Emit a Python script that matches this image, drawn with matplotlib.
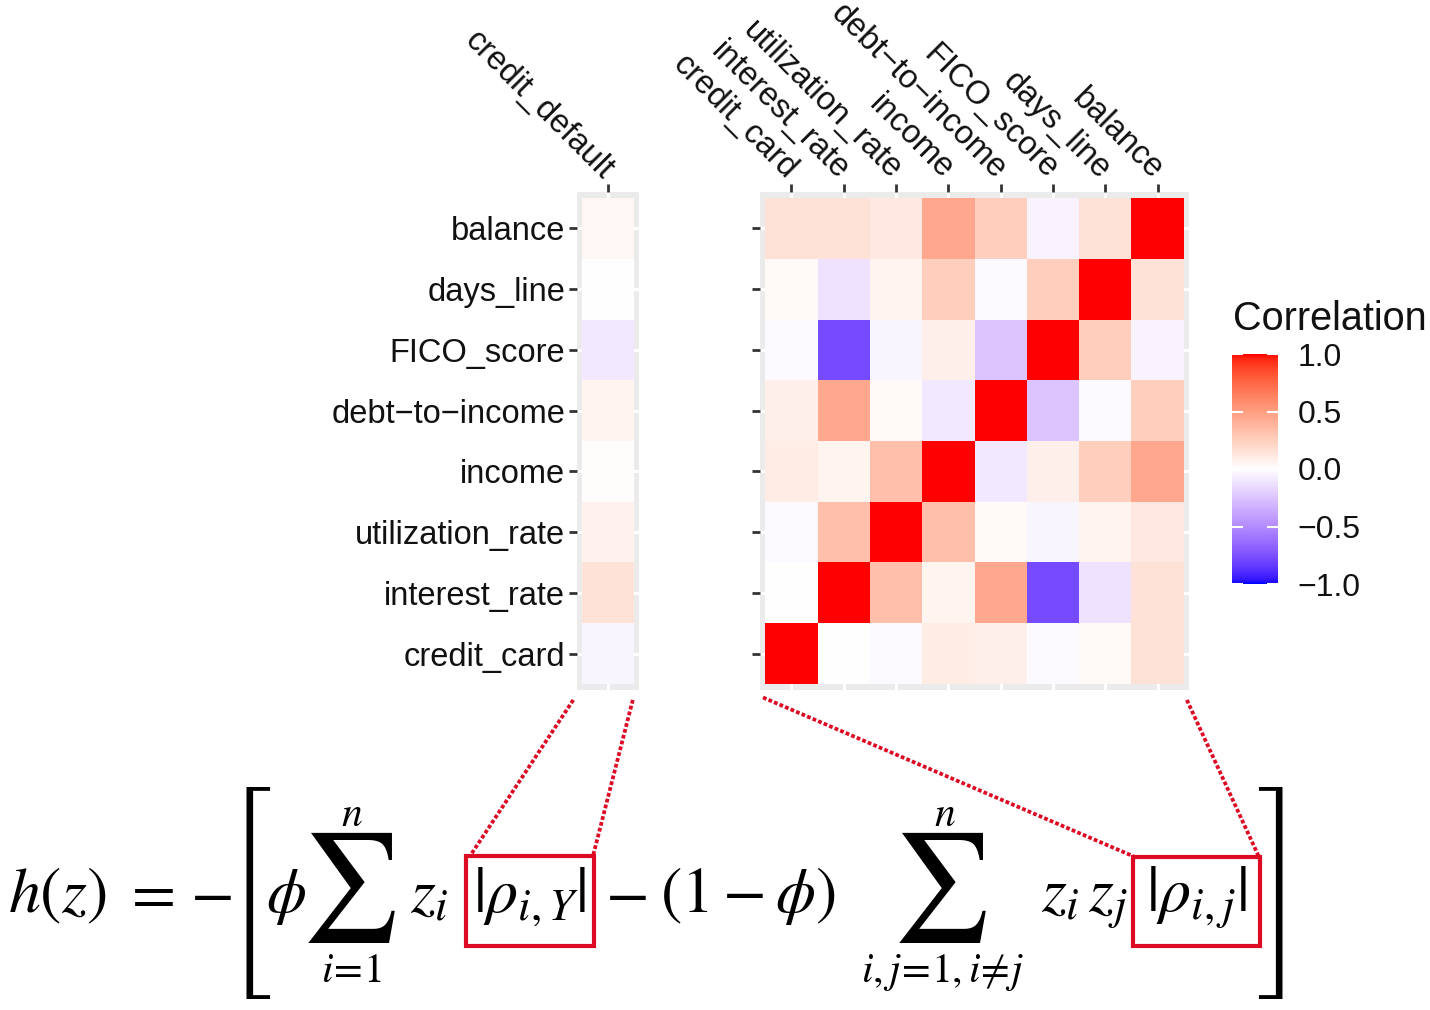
import numpy as np
import matplotlib
matplotlib.use("Agg")
import matplotlib.pyplot as plt
from matplotlib.colors import ListedColormap, Normalize
from matplotlib.cm import ScalarMappable
from matplotlib.patches import Rectangle
from matplotlib.lines import Line2D

plt.rcParams['font.family'] = ['Liberation Sans', 'DejaVu Sans']
plt.rcParams['mathtext.fontset'] = 'stix'

W, H = 1430, 1010

# data
variables = ['credit_card', 'interest_rate', 'utilization_rate', 'income',
             'debt\u2212to\u2212income', 'FICO_score', 'days_line', 'balance']
corr_cc = [1.00, 0.00, -0.02, 0.10, 0.08, -0.02, 0.03, 0.15]
corr_ir = [0.00, 1.00, 0.33, 0.06, 0.45, -0.78, -0.12, 0.15]
corr_ur = [-0.02, 0.33, 1.00, 0.33, 0.03, -0.04, 0.06, 0.12]
corr_inc = [0.10, 0.06, 0.33, 1.00, -0.10, 0.08, 0.25, 0.45]
corr_dti = [0.08, 0.45, 0.03, -0.10, 1.00, -0.25, -0.02, 0.25]
corr_fico = [-0.02, -0.78, -0.04, 0.08, -0.25, 1.00, 0.25, -0.05]
corr_days = [0.03, -0.12, 0.06, 0.25, -0.02, 0.25, 1.00, 0.15]
corr_bal = [0.15, 0.15, 0.12, 0.45, 0.25, -0.05, 0.15, 1.00]
target = 'credit_default'
corr_target = [-0.04, 0.15, 0.07, 0.01, 0.06, -0.10, 0.00, 0.04]
cbar_ticks = [-1.0, -0.5, 0.0, 0.5, 1.0]

corr = np.array([corr_cc, corr_ir, corr_ur, corr_inc,
                 corr_dti, corr_fico, corr_days, corr_bal])


# blue-white-red gradient interpolated in Lab (like ggplot gradient2)
WHITE_REF = np.array([0.95047, 1.0, 1.08883])
M = np.array([[0.4124564, 0.3575761, 0.1804375],
              [0.2126729, 0.7151522, 0.0721750],
              [0.0193339, 0.1191920, 0.9503041]])


def rgb2lab(c):
    c = np.asarray(c, float)
    lin = np.where(c <= 0.04045, c / 12.92, ((c + 0.055) / 1.055) ** 2.4)
    t = M @ lin / WHITE_REF
    f = np.where(t > 0.008856, np.cbrt(t), 7.787 * t + 16 / 116)
    return np.array([116 * f[1] - 16, 500 * (f[0] - f[1]), 200 * (f[1] - f[2])])


def lab2rgb(lab):
    L, a, b = lab
    fy = (L + 16) / 116
    f = np.array([fy + a / 500, fy, fy - b / 200])
    t = np.where(f ** 3 > 0.008856, f ** 3, (f - 16 / 116) / 7.787) * WHITE_REF
    lin = np.linalg.solve(M, t)
    lin = np.clip(lin, 0, 1)
    c = np.where(lin <= 0.0031308, 12.92 * lin, 1.055 * lin ** (1 / 2.4) - 0.055)
    return np.clip(c, 0, 1)


low, mid, high = rgb2lab([0, 0, 1]), rgb2lab([1, 1, 1]), rgb2lab([1, 0, 0])
cols = []
for v in np.linspace(-1, 1, 256):
    end = low if v < 0 else high
    cols.append(lab2rgb(mid + abs(v) * (end - mid)))
cmap = ListedColormap(cols)

fig = plt.figure(figsize=(W / 100, H / 100), dpi=100)


def px_rect(x0, y0, x1, y1):
    return [x0 / W, 1 - y1 / H, (x1 - x0) / W, (y1 - y0) / H]


def heat_panel(rect, data, xlabels, ylabels, show_ylabels):
    ax = fig.add_axes(rect)
    nr, nc = data.shape
    ax.set_facecolor('#EBEBEB')
    ax.pcolormesh(np.arange(nc + 1) - 0.5, np.arange(nr + 1) - 0.5, data,
                  cmap=cmap, vmin=-1, vmax=1, zorder=2)
    ax.set_xlim(-0.6, nc - 0.4)
    ax.set_ylim(-0.6, nr - 0.4)
    ax.set_xticks(range(nc))
    ax.set_yticks(range(nr))
    ax.set_xticklabels(xlabels)
    ax.set_yticklabels(ylabels if show_ylabels else [''] * nr)
    ax.xaxis.tick_top()
    ax.grid(True, color='white', lw=2.2, zorder=1)
    for s in ax.spines.values():
        s.set_visible(False)
    ax.tick_params(length=5.5, width=2, color='#333333', labelsize=23.5,
                   labelcolor='#111111', pad=3)
    ax.tick_params(axis='x', pad=7)
    for lbl in ax.get_xticklabels():
        lbl.set(rotation=-45, ha='right', va='center', rotation_mode='anchor')
    return ax


ax_left = heat_panel(px_rect(577, 192, 639, 690), np.array(corr_target).reshape(-1, 1),
                     [target], variables, True)
ax_right = heat_panel(px_rect(760, 192, 1189, 690), corr, variables, variables, False)

# colorbar
cax = fig.add_axes(px_rect(1232, 354, 1278, 584))
cb = fig.colorbar(ScalarMappable(Normalize(-1, 1), cmap), cax=cax, ticks=cbar_ticks)
cb.outline.set_visible(False)
cb.set_ticklabels([f'{v:.1f}'.replace('-', '\u2212') for v in cbar_ticks])
cax.tick_params(direction='in', color='white', length=8, width=1.5,
                left=True, right=True, labelsize=23, labelcolor='#111111', pad=14)
fig.text(1233 / W, 1 - 330 / H, 'Correlation', fontsize=28.5, color='#111111')

# formula
red = '#DC0A23'
FS = 46
LIM = 30


def ftext(x, y, s, size, **kw):
    kw.setdefault('ha', 'left')
    kw.setdefault('va', 'baseline')
    return fig.text(x / W, 1 - y / H, s, fontsize=size, color='black', **kw)


BASE = 912
ftext(8, BASE, r'$h(z)$', FS)
ftext(122, BASE, r'$=$', FS)
ftext(190, BASE, r'$-$', FS)
ftext(226, 893, '[', 50, family='STIXSizeFourSym', va='center')
ftext(266, BASE, r'$\phi$', FS)
ftext(351, 915, '\u2211', 78, family='STIXGeneral', ha='center')
ftext(352, 826, r'$n$', LIM, ha='center')
ftext(351, 982, r'$i\!=\!1$', LIM, ha='center')
ftext(410, BASE, r'$z_i$', FS)
ftext(530, BASE, r'$|\rho_{i,Y}|$', FS, ha='center')
ftext(605, BASE, r'$-$', FS)
ftext(660, BASE, r'$(1-\phi)$', FS)
ftext(942, 915, '\u2211', 78, family='STIXGeneral', ha='center')
ftext(945, 826, r'$n$', LIM, ha='center')
ftext(943, 982, r'$i,j\!=\!1,i\!\neq\! j$', LIM, ha='center')
ftext(1041, BASE, r'$z_i\,z_j$', FS)
ftext(1196, BASE, r'$|\rho_{i,j}|$', FS, ha='center')
ftext(1256, 893, ']', 50, family='STIXSizeFourSym', va='center')

box1 = (466, 856, 594, 946)
box2 = (1133, 857, 1260, 946)
for x0, y0, x1, y1 in (box1, box2):
    fig.add_artist(Rectangle((x0 / W, 1 - y1 / H), (x1 - x0) / W, (y1 - y0) / H,
                             transform=fig.transFigure, fill=False, ec=red, lw=3))


def link(ax, axpt, boxpt):
    p = fig.transFigure.inverted().transform(ax.transAxes.transform(axpt))
    q = (boxpt[0] / W, 1 - boxpt[1] / H)
    fig.add_artist(Line2D([p[0], q[0]], [p[1], q[1]], transform=fig.transFigure,
                          color=red, lw=2.7, ls=(0, (1, 0.6))))


link(ax_left, (-0.06, -0.02), (box1[0] + 4, box1[1]))
link(ax_left, (0.9, -0.02), (box1[2] - 1, box1[1]))
link(ax_right, (0.007, -0.015), (box2[0] + 2, box2[1]))
link(ax_right, (0.995, -0.02), (box2[2] - 1, box2[1]))

fig.savefig('out.png', dpi=100)
